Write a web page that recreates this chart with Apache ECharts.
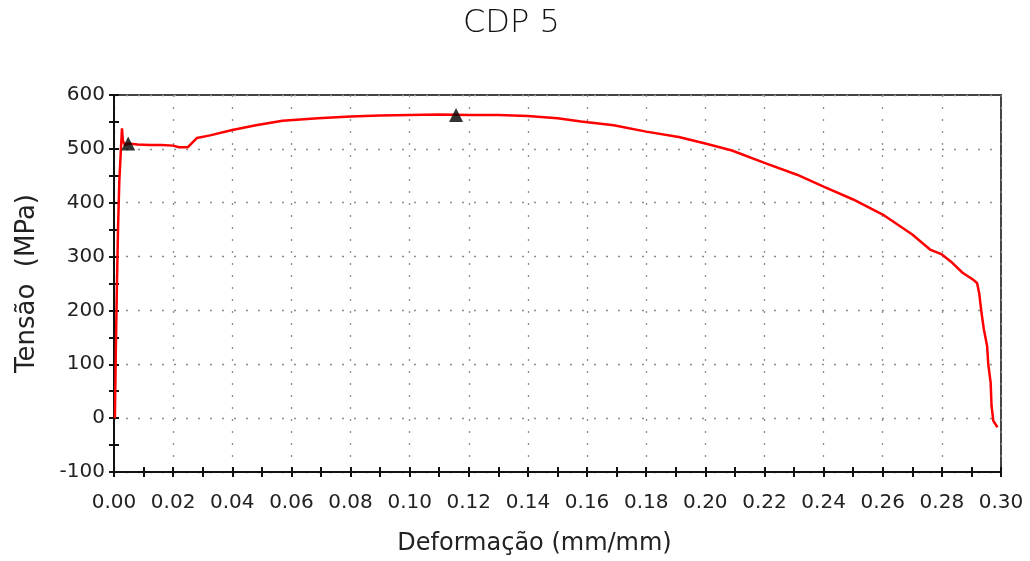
<!DOCTYPE html>
<html>
<head>
<meta charset="utf-8">
<title>CDP 5</title>
<script src="https://cdn.jsdelivr.net/npm/echarts@6/dist/echarts.min.js"></script>
<style>
  html, body { margin: 0; padding: 0; background: #fff; }
  #chart { width: 1030px; height: 561px; }
</style>
</head>
<body>
<div id="chart"></div>
<script>
// curva tensao x deformacao
var strain = [0.0003, 0.0006, 0.0010, 0.0014, 0.0018, 0.0023, 0.0027, 0.0030, 0.0037, 0.0048,
  0.008, 0.012, 0.016, 0.020, 0.022, 0.025, 0.028, 0.0325, 0.040, 0.048,
  0.057, 0.069, 0.080, 0.090, 0.100, 0.110, 0.120, 0.130, 0.140, 0.150,
  0.158, 0.169, 0.180, 0.191, 0.200, 0.209, 0.220, 0.231, 0.240, 0.250,
  0.260, 0.270, 0.276, 0.280, 0.283, 0.287, 0.2906, 0.2919, 0.2926, 0.2934,
  0.2942, 0.2953, 0.2957, 0.2965, 0.2968, 0.2974, 0.2988];
var stress = [0, 120, 250, 360, 440, 495, 538, 515, 507, 510,
  508, 507, 507, 506, 503, 503, 520, 525, 535, 544,
  552, 557, 560, 562, 563, 564, 563, 563, 561, 557,
  551, 544, 532, 522, 510, 497, 474, 452, 430, 406,
  378, 341, 313, 304, 291, 270, 257, 251, 233, 196,
  165, 134, 100, 66, 23, -5, -17];

// marcadores (escoamento e tensao maxima)
var markStrain = [0.0048, 0.1157];
var markStress = [510, 563];

var chart = echarts.init(document.getElementById('chart'));

var lineData = strain.map(function (s, i) { return [s, stress[i]]; });
var markData = markStrain.map(function (s, i) { return [s, markStress[i]]; });

var tickFont = { fontFamily: 'DejaVu Sans', fontSize: 20, color: '#222' };
var dotted = { color: '#8c8c8c', width: 1.3, type: [2, 10] };
var tickLine = { color: '#111', width: 2 };

var option = {
  animation: false,
  backgroundColor: '#fff',
  title: {
    text: 'CDP 5',
    left: 458,
    top: 3,
    textStyle: { fontFamily: 'DejaVu Sans', fontSize: 32, fontWeight: 200, color: '#111' }
  },
  grid: {
    left: 114, right: 29, top: 95, bottom: 87,
    show: true, borderColor: '#444', borderWidth: 2
  },
  xAxis: [
    {
      type: 'value', min: 0, max: 0.3, interval: 0.02,
      name: 'Deformação (mm/mm)', nameLocation: 'middle', nameGap: 60,
      nameTextStyle: { fontFamily: 'DejaVu Sans', fontSize: 24, color: '#222', padding: [0, 46, 0, 0] },
      axisLine: { onZero: false, lineStyle: { color: '#111', width: 2 } },
      axisTick: { show: true, inside: false, length: 5, lineStyle: tickLine },
      minorTick: { show: true, splitNumber: 2, length: 5, lineStyle: tickLine },
      axisLabel: Object.assign({ margin: 21, formatter: function (v) { return v.toFixed(2); } }, tickFont),
      splitLine: { show: true, lineStyle: dotted }
    },
    {
      // ticks para dentro (cruzando o eixo)
      type: 'value', min: 0, max: 0.3, interval: 0.02, position: 'bottom', offset: 0,
      axisLine: { show: false, onZero: false },
      axisTick: { show: true, inside: true, length: 5, lineStyle: tickLine },
      minorTick: { show: true, splitNumber: 2, length: 5, lineStyle: tickLine },
      axisLabel: { show: false },
      splitLine: { show: false }
    }
  ],
  yAxis: [
    {
      type: 'value', min: -100, max: 600, interval: 100,
      name: 'Tensão  (MPa)', nameLocation: 'middle', nameGap: 74,
      nameTextStyle: { fontFamily: 'DejaVu Sans', fontSize: 26, color: '#222' },
      axisLine: { show: true, onZero: false, lineStyle: { color: '#111', width: 2 } },
      axisTick: { show: true, inside: false, length: 5, lineStyle: tickLine },
      minorTick: { show: true, splitNumber: 2, length: 5, lineStyle: tickLine },
      axisLabel: Object.assign({ margin: 9 }, tickFont),
      splitLine: { show: true, lineStyle: dotted }
    },
    {
      type: 'value', min: -100, max: 600, interval: 100, position: 'left', offset: 0,
      axisLine: { show: false, onZero: false },
      axisTick: { show: true, inside: true, length: 5, lineStyle: tickLine },
      minorTick: { show: true, splitNumber: 2, length: 5, lineStyle: tickLine },
      axisLabel: { show: false },
      splitLine: { show: false }
    }
  ],
  series: [
    {
      name: 'CDP 5',
      type: 'line',
      data: lineData,
      showSymbol: false,
      symbol: 'none',
      lineStyle: { color: '#ff0000', width: 2.5 },
      z: 3
    },
    {
      name: 'pontos',
      type: 'scatter',
      data: markData,
      symbol: 'triangle',
      symbolSize: 14,
      itemStyle: { color: '#000' },
      z: 4
    }
  ]
};

chart.setOption(option);
</script>
</body>
</html>
